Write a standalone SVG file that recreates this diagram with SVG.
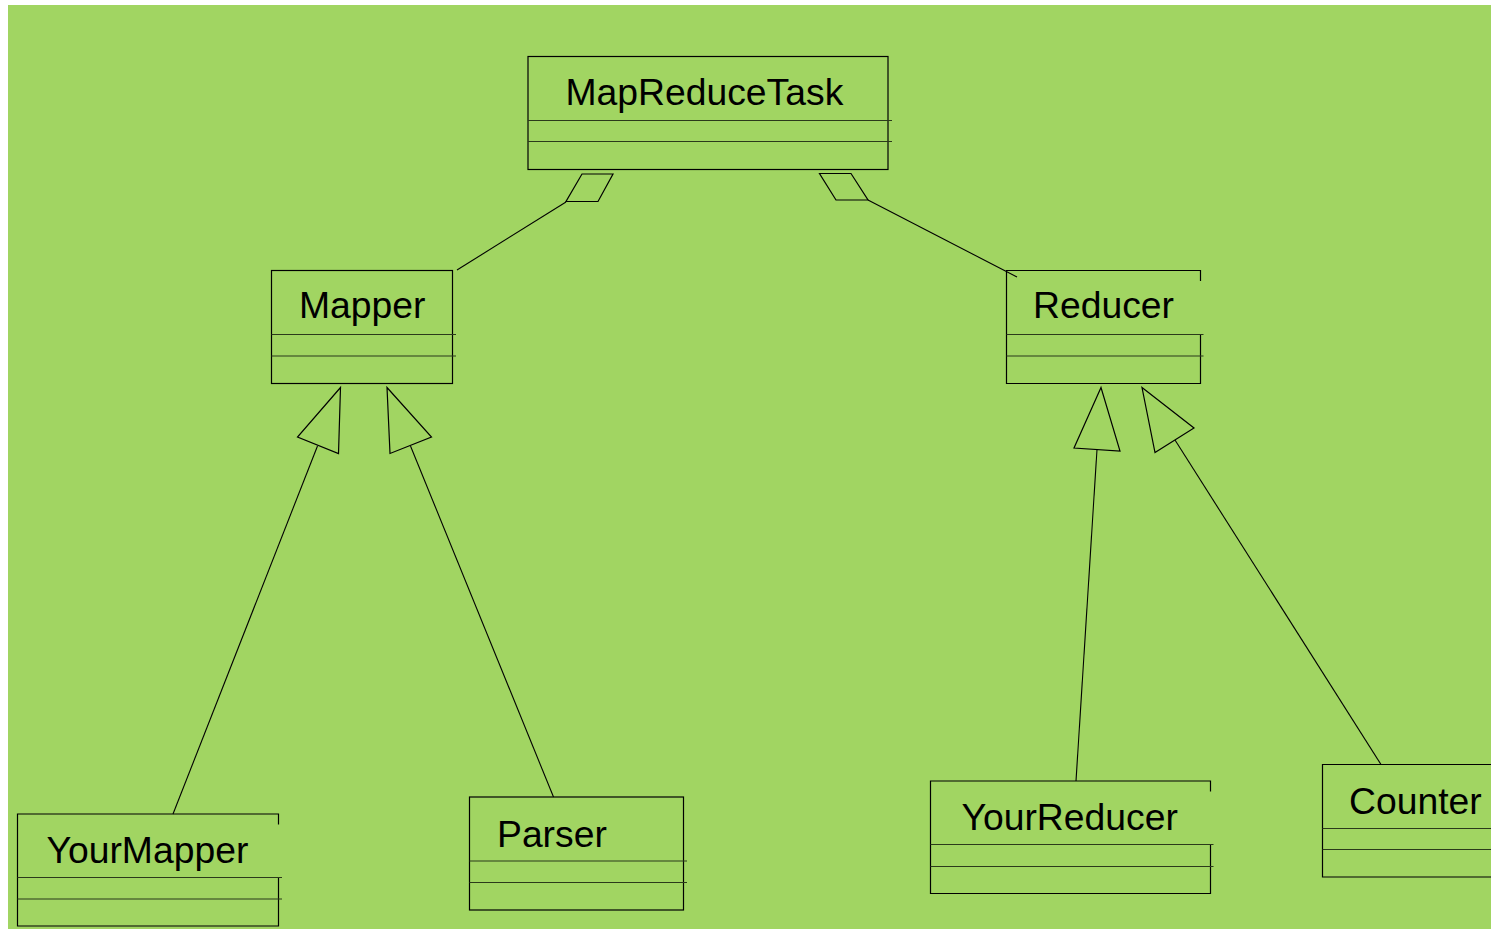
<svg xmlns="http://www.w3.org/2000/svg" width="1491" height="929" viewBox="0 0 1491 929">
  <style>
    .frame { fill: none; stroke: #000; stroke-width: 1.2; }
    .sep { fill: none; stroke: #2b3a1a; stroke-width: 1.2; }
    .label { font-family: "Liberation Sans", Arial, sans-serif; font-size: 37.3px; fill: #000; }
    .edge { fill: none; stroke: #000; stroke-width: 1.1; }
    .head { fill: none; stroke: #000; stroke-width: 1.2; stroke-linejoin: miter; }
  </style>
  <rect x="0" y="0" width="1491" height="929" fill="#ffffff"/>
  <rect x="8" y="5" width="1483" height="924" fill="#a1d562"/>

  <!-- class boxes -->
  <g id="MapReduceTask">
    <rect class="frame" x="528" y="56.5" width="360" height="113"/>
    <line class="sep" x1="528" y1="120.5" x2="892" y2="120.5"/>
    <line class="sep" x1="528" y1="141.5" x2="892" y2="141.5"/>
    <text class="label" x="565.5" y="105">MapReduceTask</text>
  </g>

  <g id="Mapper">
    <rect class="frame" x="271.5" y="270.5" width="181" height="113"/>
    <line class="sep" x1="271.5" y1="334.5" x2="456" y2="334.5"/>
    <line class="sep" x1="271.5" y1="356" x2="456" y2="356"/>
    <text class="label" x="299" y="318">Mapper</text>
  </g>

  <g id="Reducer">
    <path class="frame" d="M1200.5 281 V270.5 H1006.5 V383.5 H1200.5 V334.5"/>
    <line class="sep" x1="1006.5" y1="334.5" x2="1203.5" y2="334.5"/>
    <line class="sep" x1="1006.5" y1="356" x2="1203.5" y2="356"/>
    <text class="label" x="1033" y="318">Reducer</text>
  </g>

  <g id="YourMapper">
    <path class="frame" d="M278.5 824.5 V814 H17.5 V926 H278.5 V877.5"/>
    <line class="sep" x1="17.5" y1="877.5" x2="282" y2="877.5"/>
    <line class="sep" x1="17.5" y1="899" x2="282" y2="899"/>
    <text class="label" x="46.5" y="863">YourMapper</text>
  </g>

  <g id="Parser">
    <rect class="frame" x="469.5" y="797" width="214" height="113"/>
    <line class="sep" x1="469.5" y1="861" x2="687" y2="861"/>
    <line class="sep" x1="469.5" y1="882.5" x2="687" y2="882.5"/>
    <text class="label" x="497" y="847">Parser</text>
  </g>

  <g id="YourReducer">
    <path class="frame" d="M1210.5 791.5 V781 H930.5 V893.5 H1210.5 V844.5"/>
    <line class="sep" x1="930.5" y1="844.5" x2="1213.5" y2="844.5"/>
    <line class="sep" x1="930.5" y1="866.5" x2="1213.5" y2="866.5"/>
    <text class="label" x="961.5" y="830">YourReducer</text>
  </g>

  <g id="Counter">
    <path class="frame" d="M1495 764.5 H1322.5 V877 H1495"/>
    <line class="sep" x1="1322.5" y1="828.5" x2="1495" y2="828.5"/>
    <line class="sep" x1="1322.5" y1="849.5" x2="1495" y2="849.5"/>
    <text class="label" x="1349" y="814">Counter</text>
  </g>

  <!-- connectors: aggregation diamonds and generalization triangles -->
  <g id="connectors">
    <polygon class="head" points="582,174 613,174 598,201.5 566,201.5"/>
    <line class="edge" x1="566" y1="202" x2="457" y2="270"/>

    <polygon class="head" points="819.5,173.5 851,173.5 868,200 836,200"/>
    <line class="edge" x1="868" y1="200" x2="1017" y2="277"/>

    <polygon class="head" points="340.5,387.5 297.5,437 338.5,453.5"/>
    <line class="edge" x1="317.5" y1="446" x2="173" y2="814"/>

    <polygon class="head" points="387,387.5 431.5,437 390,453.5"/>
    <line class="edge" x1="410.5" y1="446" x2="553.5" y2="797"/>

    <polygon class="head" points="1101,387.5 1074,448 1120,451"/>
    <line class="edge" x1="1097" y1="449.5" x2="1076" y2="781"/>

    <polygon class="head" points="1142,387.5 1194,428 1155,452.5"/>
    <line class="edge" x1="1175" y1="440" x2="1381" y2="764.5"/>
  </g>
</svg>
